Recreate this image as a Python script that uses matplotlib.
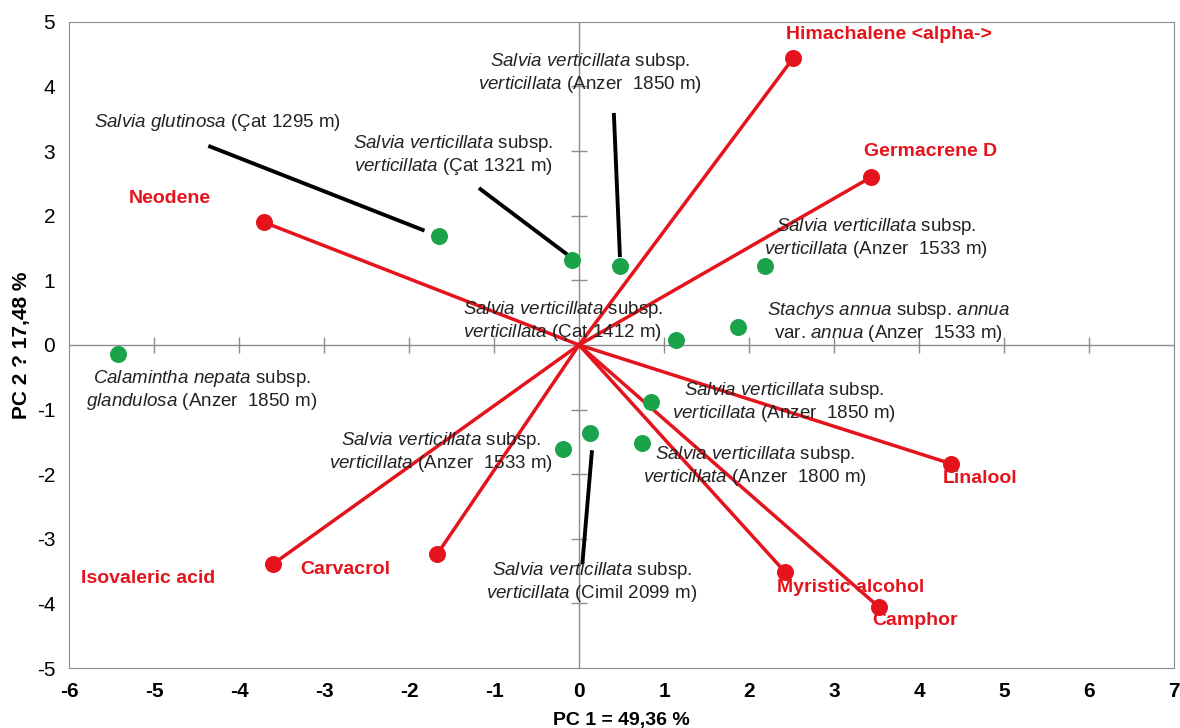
import matplotlib
matplotlib.use("Agg")
import matplotlib.pyplot as plt

plt.rcParams['font.family'] = ['Liberation Sans Narrow', 'Liberation Sans', 'DejaVu Sans']
plt.rcParams['mathtext.fontset'] = 'custom'
plt.rcParams['mathtext.rm'] = 'Liberation Sans'
plt.rcParams['mathtext.it'] = 'Liberation Sans:italic'
plt.rcParams['axes.unicode_minus'] = False


def it(s):
    return r"$\mathit{" + s.replace(" ", r"\ ") + "}$"


SV = it("Salvia verticillata") + " subsp.\n" + it("verticillata")

# sample scores (green points)
sample_pc1 = [-1.65, -0.08, 0.48, 2.19, 1.87, 1.14, -5.42, 0.85, 0.74, -0.19, 0.13]
sample_pc2 = [1.69, 1.32, 1.22, 1.22, 0.28, 0.08, -0.14, -0.88, -1.52, -1.61, -1.36]

# sample labels and where they sit
sample_labels = [
    it("Salvia glutinosa") + " (Çat 1295 m)",
    SV + " (Çat 1321 m)",
    SV + " (Anzer  1850 m)",
    SV + " (Anzer  1533 m)",
    it("Stachys annua") + " subsp. " + it("annua") + "\nvar. " + it("annua") + " (Anzer  1533 m)",
    SV + " (Çat 1412 m)",
    it("Calamintha nepata") + " subsp.\n" + it("glandulosa") + " (Anzer  1850 m)",
    SV + " (Anzer  1850 m)",
    SV + " (Anzer  1800 m)",
    SV + " (Anzer  1533 m)",
    SV + " (Cimil 2099 m)",
]
label_x = [-4.26, -1.48, 0.13, 3.49, 3.64, -0.19, -4.44, 2.41, 2.07, -1.62, 0.15]
label_y = [3.44, 2.94, 4.21, 1.66, 0.36, 0.37, -0.70, -0.88, -1.87, -1.66, -3.67]

# leader lines: (x0, y0, x1, y1)
leaders = [
    (-4.34, 3.07, -1.84, 1.78),
    (-1.16, 2.41, -0.15, 1.41),
    (0.41, 3.56, 0.48, 1.39),
    (0.15, -1.66, 0.04, -3.37),
]

# loadings (red vectors)
load_pc1 = [2.52, 3.44, -3.71, 4.38, 2.42, 3.53, -3.60, -1.67]
load_pc2 = [4.44, 2.60, 1.90, -1.84, -3.51, -4.06, -3.39, -3.24]

load_names = ["Himachalene <alpha->", "Germacrene D", "Neodene", "Linalool",
              "Myristic alcohol", "Camphor", "Isovaleric acid", "Carvacrol"]
load_lx = [3.65, 4.13, -4.81, 4.72, 3.20, 3.95, -5.07, -2.75]
load_ly = [4.80, 2.99, 2.26, -2.06, -3.76, -4.27, -3.61, -3.47]

RED = '#e5141c'
GREEN = '#1aa34a'
GREY = '#8c8c8c'

fig = plt.figure(figsize=(11.8, 7.28), dpi=100)
ax = fig.add_axes([0.0585, 0.0824, 0.9365, 0.8876])
ax.set_xlim(-6, 7)
ax.set_ylim(-5, 5)

# axes through origin
ax.axhline(0, color=GREY, lw=1, zorder=1)
ax.axvline(0, color=GREY, lw=1, zorder=1)
xt = [v for v in range(-5, 7) if v != 0]
yt = [v for v in range(-4, 5) if v != 0]
ax.plot(xt, [0] * len(xt), ls='none', marker='|', ms=12, mew=1, color=GREY, zorder=1)
ax.plot([0] * len(yt), yt, ls='none', marker='_', ms=12, mew=1, color=GREY, zorder=1)

for x, y in zip(load_pc1, load_pc2):
    ax.plot([0, x], [0, y], color=RED, lw=2.5, zorder=2)
ax.scatter(load_pc1, load_pc2, s=150, color=RED, zorder=3, linewidths=0)

for x0, y0, x1, y1 in leaders:
    ax.plot([x0, x1], [y0, y1], color='black', lw=2.8, zorder=2)

ax.scatter(sample_pc1, sample_pc2, s=150, color=GREEN, zorder=3, linewidths=0)

for t, x, y in zip(sample_labels, label_x, label_y):
    ax.text(x, y, t, ha='center', va='center', fontsize=13.5, color='#222222',
            linespacing=1.15, zorder=4)

for t, x, y in zip(load_names, load_lx, load_ly):
    ax.text(x, y, t, ha='center', va='center', fontsize=14, color=RED,
            fontweight='bold', zorder=4)

ax.set_xticks(range(-6, 8))
ax.set_yticks(range(-5, 6))
ax.tick_params(length=0, pad=10)
for lb in ax.get_xticklabels():
    lb.set_fontweight('bold')
    lb.set_fontsize(15)
for lb in ax.get_yticklabels():
    lb.set_fontsize(15)
for sp in ax.spines.values():
    sp.set_color(GREY)

ax.set_xlabel("PC 1 = 49,36 %", fontsize=14, fontweight='bold', labelpad=8)
ax.set_ylabel("PC 2 ? 17,48 %", fontsize=15, fontweight='bold', labelpad=4)

fig.savefig("out.png", dpi=100)
